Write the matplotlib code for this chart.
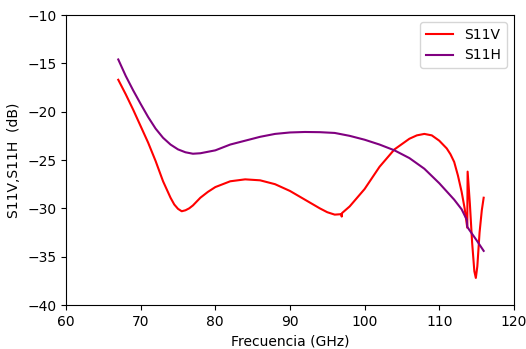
import numpy as np
import matplotlib
matplotlib.use('Agg')
import matplotlib.pyplot as plt

# S11V (rojo)
frec_v = [67, 68, 69, 70, 71, 72, 73, 74, 74.5, 75, 75.5, 76, 76.5, 77, 78, 79, 80, 82, 84,
          86, 88, 90, 92, 94, 95, 96, 96.9, 96.93, 96.96, 98, 100, 102, 104, 106, 107, 108,
          109, 110, 111, 111.5, 112, 112.5, 113, 113.4, 113.75, 113.8, 114.1, 114.4, 114.7,
          114.9, 115.1, 115.4, 115.7, 115.95]
s11v = [-16.7, -18.2, -19.8, -21.5, -23.2, -25.1, -27.2, -28.9, -29.6, -30.05, -30.3, -30.2,
        -30.0, -29.7, -28.9, -28.3, -27.8, -27.2, -27.0, -27.1, -27.5, -28.2, -29.1, -30.0,
        -30.4, -30.65, -30.6, -30.85, -30.5, -29.8, -28.0, -25.7, -23.9, -22.8, -22.45,
        -22.3, -22.45, -23.0, -23.8, -24.4, -25.2, -26.6, -28.3, -30.0, -32.0, -26.2, -29.5,
        -33.5, -36.5, -37.2, -36.0, -32.5, -30.2, -28.9]

# S11H (morado)
frec_h = [67, 68, 69, 70, 71, 72, 73, 74, 75, 76, 77, 78, 80, 82, 84, 86, 88, 90, 92, 94,
          96, 97, 98, 100, 102, 104, 106, 108, 110, 112, 113, 113.7, 113.75, 114, 115, 115.95]
s11h = [-14.6, -16.3, -17.8, -19.2, -20.55, -21.75, -22.7, -23.4, -23.9, -24.2, -24.35,
        -24.3, -24.0, -23.4, -23.0, -22.6, -22.3, -22.15, -22.1, -22.12, -22.2, -22.35,
        -22.5, -22.9, -23.4, -24.0, -24.8, -25.9, -27.4, -29.1, -30.1, -31.2, -31.9, -32.2,
        -33.3, -34.4]

fig = plt.figure(figsize=(5.26, 3.49), dpi=100)
ax = fig.add_axes([0.1255, 0.126, 0.8515, 0.831])

ax.plot(frec_v, s11v, color='red', lw=1.5, label='S11V')
ax.plot(frec_h, s11h, color='purple', lw=1.5, label='S11H')

ax.set_xlim(60, 120)
ax.set_ylim(-40, -10)
ax.set_xticks(np.arange(60, 121, 10))
ax.set_yticks(np.arange(-40, -9, 5))
ax.set_xlabel('Frecuencia (GHz)')
ax.set_ylabel('S11V,S11H  (dB)')
ax.legend(loc='upper right')

fig.savefig('out.png', dpi=100)
